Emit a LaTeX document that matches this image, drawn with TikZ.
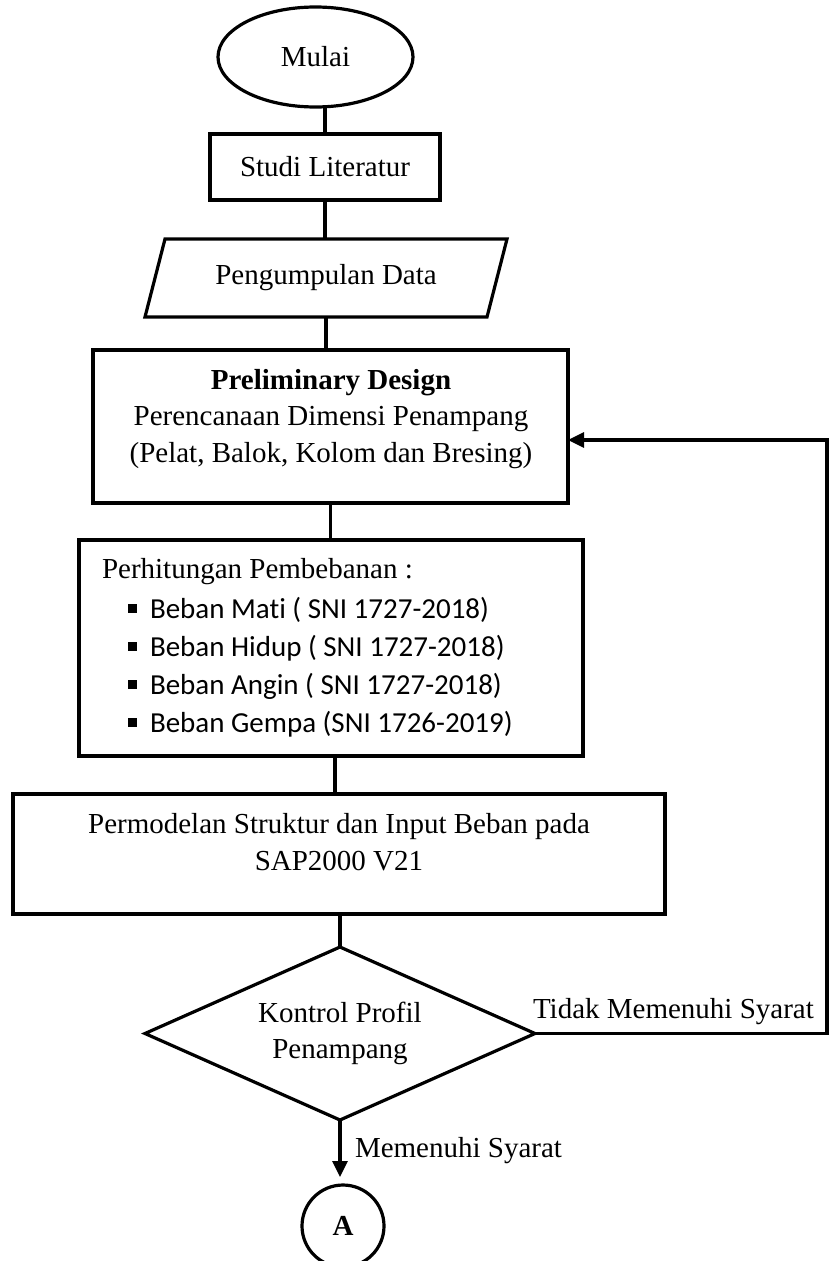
\documentclass[tikz,border=0pt]{standalone}
\usepackage{fontspec}
\setmainfont{Liberation Serif}
\newfontfamily\calib[Ligatures={NoCommon,NoDiscretionary,NoContextual}]{Carlito}
\usetikzlibrary{shapes.geometric,arrows.meta,calc}
\begin{document}
\begin{tikzpicture}[x=1pt,y=-1pt,
  every node/.style={font=\fontsize{29}{36.5}\selectfont, inner sep=0pt, outer sep=0pt},
  box/.style={draw, line width=3.2pt, rectangle},
  ln/.style={line width=3.2pt},
  arr/.style={line width=3.2pt, -{Triangle[length=16pt,width=15pt]}},
  bul/.style={anchor=base west, font=\calib\fontsize{29}{35}\selectfont}]
\useasboundingbox (0,0) rectangle (830,1261);

\node[draw, ellipse, line width=3.2pt, minimum width=195pt, minimum height=100pt] (start) at (315.5,57) {Mulai};
\node[box, minimum width=230pt, minimum height=66pt] (studi) at (325,167) {Studi Literatur};
\node[minimum width=342pt, minimum height=78pt] (data) at (326,278) {Pengumpulan Data};
\draw[ln] ($(data.south west)+(-10,0)$) -- ($(data.north west)+(10,0)$) -- ($(data.north east)+(10,0)$) -- ($(data.south east)+(-10,0)$) -- cycle;

\node[box, minimum width=475pt, minimum height=153pt] (prelim) at (330.5,426.5) {};
\node[align=center] (prelimtxt) at (331,419) {\textbf{Preliminary Design}\\Perencanaan Dimensi Penampang\\(Pelat, Balok, Kolom dan Bresing)};

\node[box, minimum width=504pt, minimum height=216pt] (perh) at (331,648) {};
\node[anchor=base west] (perhtitle) at (102,578) {Perhitungan Pembebanan :};
\node[bul] (b1) at (128,618) {\rule[5pt]{9pt}{9pt}\hspace{13pt}Beban Mati ( SNI 1727-2018)};
\node[bul] (b2) at (128,656) {\rule[5pt]{9pt}{9pt}\hspace{13pt}Beban Hidup ( SNI 1727-2018)};
\node[bul] (b3) at (128,694) {\rule[5pt]{9pt}{9pt}\hspace{13pt}Beban Angin ( SNI 1727-2018)};
\node[bul] (b4) at (128,732) {\rule[5pt]{9pt}{9pt}\hspace{13pt}Beban Gempa (SNI 1726-2019)};

\node[box, minimum width=652pt, minimum height=120pt] (perm) at (339,854) {};
\node[align=center] (permtxt) at (339,842) {Permodelan Struktur dan Input Beban pada\\SAP2000 V21};

\node[draw, diamond, aspect=2.25, line width=3.2pt, minimum width=390pt, minimum height=173pt, align=center] (dec) at (340,1033.5) {Kontrol Profil\\Penampang};

\node[draw, circle, line width=3.2pt, minimum size=82pt, font=\bfseries\fontsize{29}{35}\selectfont] (A) at (343,1226) {A};

\draw[ln] (studi.north) -- (studi.north |- start.south);
\draw[ln] (studi.south) -- (studi.south |- data.north);
\draw[ln] (data.south) -- (data.south |- prelim.north);
\draw[ln] (prelim.south) -- (prelim.south |- perh.north);
\draw[ln] ($(perh.south)+(4,0)$) -- ($(perm.north)+(-4,0)$);
\draw[ln] (dec.north) -- (dec.north |- perm.south);
\draw[arr, shorten >=8pt] (dec.south) -- (dec.south |- A.north);

\coordinate (loopr) at (827,440);
\draw[arr] (dec.east) -| (loopr) -- (loopr -| prelim.east);

\node[anchor=base west] (no) at (533,1018) {Tidak Memenuhi Syarat};
\node[anchor=base west] (yes) at (355,1157) {Memenuhi Syarat};
\end{tikzpicture}
\end{document}
